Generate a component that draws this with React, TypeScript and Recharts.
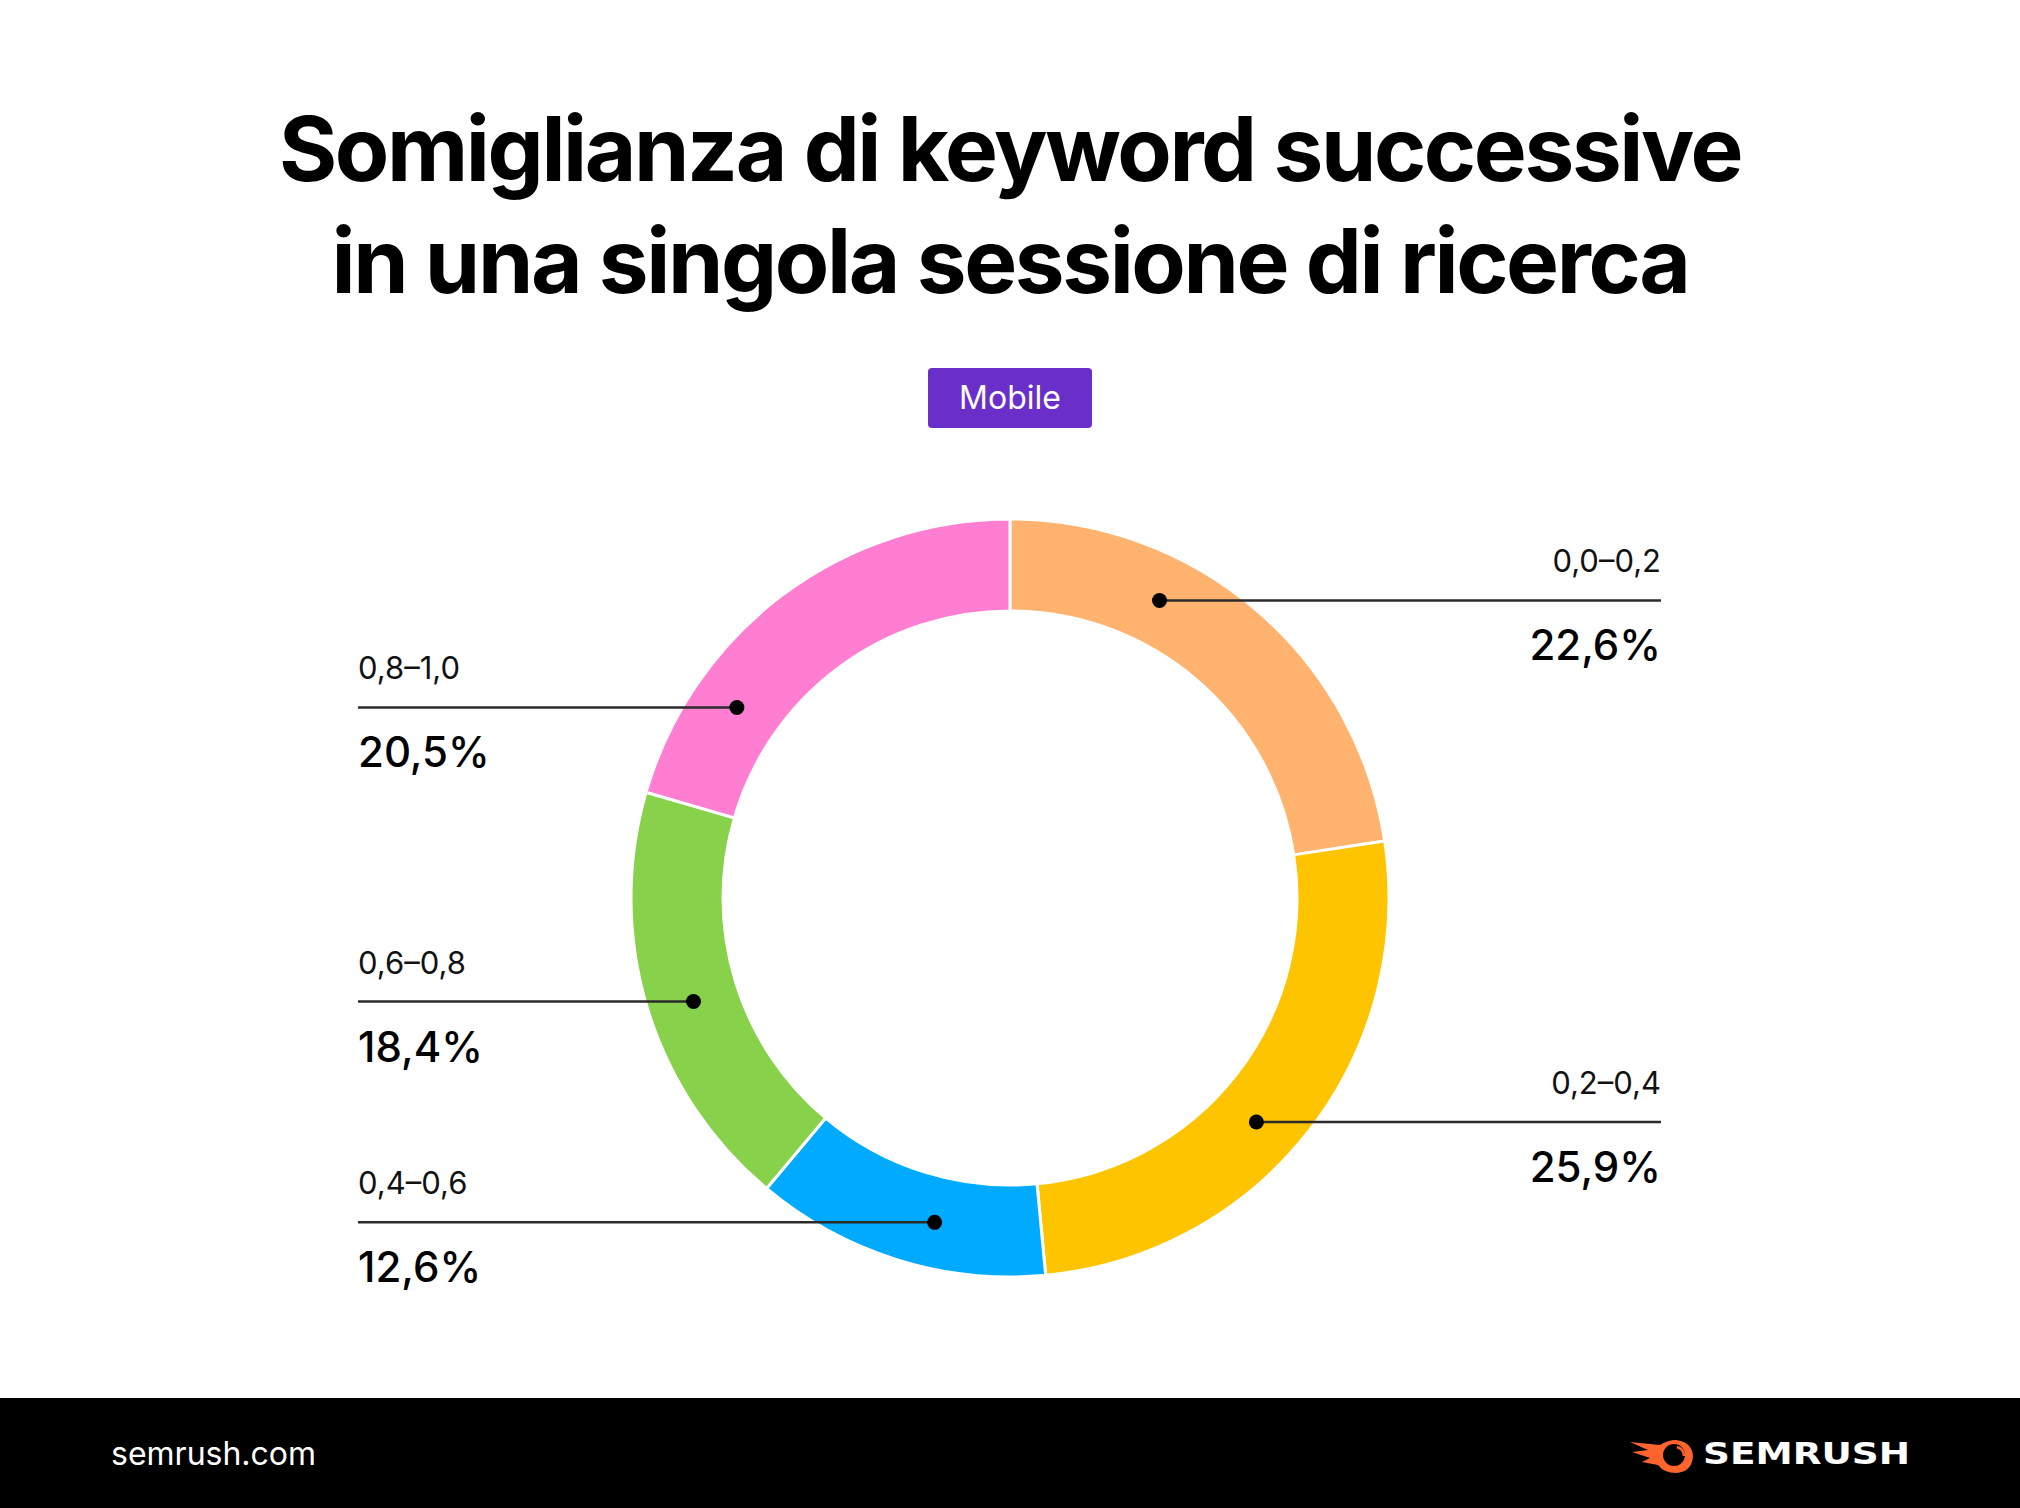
import React from "react";
import { PieChart, Pie, Cell } from "recharts";

const categories = ["0,0–0,2", "0,2–0,4", "0,4–0,6", "0,6–0,8", "0,8–1,0"];
const shares = [22.6, 25.9, 12.6, 18.4, 20.5];
const shareLabels = ["22,6%", "25,9%", "12,6%", "18,4%", "20,5%"];
const colors = ["#FFB36E", "#FFC400", "#00AAFF", "#87D14B", "#FF7ED1"];
// layout-only nudges (degrees) for the callout dot position along the ring
const labelAngleNudge = [14, -4.3, 4.2, 1.2, 18.2];

const data = categories.map((c, i) => ({ name: c, value: shares[i] }));

const RAD = Math.PI / 180;
const FONT = "Inter, 'Noto Sans', sans-serif";

const renderLabel = (props: any) => {
  const { cx, cy, midAngle, innerRadius, outerRadius, index } = props;
  const a = (midAngle + labelAngleNudge[index]) * RAD;
  const r = (innerRadius + outerRadius) / 2;
  const x = cx + r * Math.cos(-a);
  const y = cy + r * Math.sin(-a);
  const right = x > cx;
  const endX = right ? cx + 651 : cx - 652;
  return (
    <g key={`lbl-${index}`}>
      <line x1={x} y1={y} x2={endX} y2={y} stroke="#2b2b2b" strokeWidth={2.5} />
      <circle cx={x} cy={y} r={7.5} fill="#000" />
      <text
        x={endX}
        y={y - 28}
        textAnchor={right ? "end" : "start"}
        fontFamily={FONT}
        fontSize={31}
        fill="#111"
      >
        {categories[index]}
      </text>
      <text
        x={endX}
        y={y + 60}
        textAnchor={right ? "end" : "start"}
        fontFamily={FONT}
        fontSize={42}
        fontWeight={500}
        fill="#000"
      >
        {shareLabels[index]}
      </text>
    </g>
  );
};

export default function App() {
  return (
    <div
      style={{
        position: "absolute",
        left: 0,
        top: 0,
        width: 2020,
        height: 1508,
        background: "#fff",
        overflow: "hidden",
        fontFamily: FONT,
      }}
    >
      <div
        style={{
          position: "absolute",
          left: 0,
          top: 93,
          width: 2020,
          textAlign: "center",
          fontSize: 89,
          fontWeight: 700,
          lineHeight: "112px",
          color: "#000",
          letterSpacing: -2.4,
        }}
      >
        Somiglianza di keyword successive
        <br />
        in una singola sessione di ricerca
      </div>
      <div
        style={{
          position: "absolute",
          left: 928,
          top: 368,
          width: 164,
          height: 60,
          background: "#6A2FC8",
          borderRadius: 4,
          color: "#fff",
          fontSize: 32,
          lineHeight: "60px",
          textAlign: "center",
        }}
      >
        Mobile
      </div>
      <div style={{ position: "absolute", left: 0, top: 0 }}>
        <PieChart width={2020} height={1398} margin={{ top: 0, right: 0, bottom: 0, left: 0 }}>
          <Pie
            data={data}
            dataKey="value"
            nameKey="name"
            cx={1010}
            cy={898}
            innerRadius={287}
            outerRadius={379}
            startAngle={90}
            endAngle={-270}
            stroke="#fff"
            strokeWidth={3}
            isAnimationActive={false}
            labelLine={false}
            label={renderLabel}
          >
            {data.map((d, i) => (
              <Cell key={d.name} fill={colors[i]} />
            ))}
          </Pie>
        </PieChart>
      </div>
      <div
        style={{
          position: "absolute",
          left: 0,
          top: 1398,
          width: 2020,
          height: 110,
          background: "#000",
        }}
      >
        <div
          style={{
            position: "absolute",
            left: 111,
            top: 36,
            color: "#fff",
            fontSize: 32,
            lineHeight: "40px",
          }}
        >
          semrush.com
        </div>
        <svg
          style={{ position: "absolute", left: 1626, top: 36 }}
          width={300}
          height={44}
          viewBox="0 0 300 44"
        >
          <path
            d="M4 8 L34 11 Q42 6 50 6 Q66 8 67 22 Q66 38 50 39 Q38 39 32 31 L16 28 L24 24 L6 18 L22 16 Z"
            fill="#FF642D"
          />
          <circle cx={48} cy={21} r={11} fill="#000" />
          <path d="M51 13 Q58 15 58 22" stroke="#FF642D" strokeWidth={2.5} fill="none" />
          <text
            x={77}
            y={30}
            fill="#fff"
            fontFamily="'DejaVu Sans', sans-serif"
            fontWeight={700}
            fontSize={30}
            textLength={207}
            lengthAdjust="spacingAndGlyphs"
          >
            SEMRUSH
          </text>
        </svg>
      </div>
    </div>
  );
}
